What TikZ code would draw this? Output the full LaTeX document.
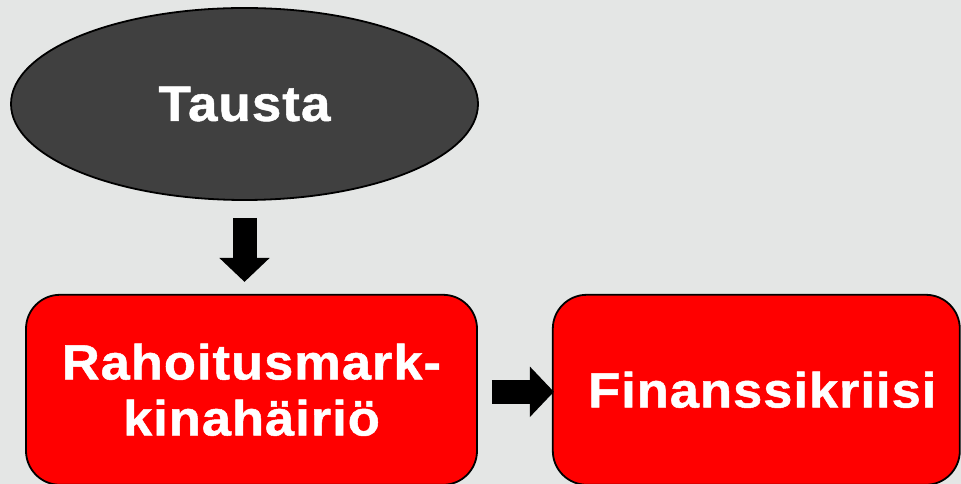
\documentclass[tikz,border=0pt]{standalone}
\usepackage{fontspec}
\setmainfont{Liberation Sans}[FakeStretch=1.06, LetterSpace=2, BoldFeatures={FakeBold=1}]
\usepackage{xcolor}
\definecolor{bggray}{RGB}{228, 230, 229}
\definecolor{ovalgray}{RGB}{64, 64, 64}
\definecolor{boxred}{RGB}{255, 0, 0}
\usetikzlibrary{shapes.geometric, arrows.meta, positioning}

\begin{document}
\begin{tikzpicture}[x=1pt, y=1pt,
        oval/.style={ellipse, draw=black, line width=1.8pt, fill=ovalgray, text=white, minimum width=467pt, minimum height=192pt, inner sep=0pt, font=\bfseries\fontsize{50}{56}\selectfont},
        block/.style={rectangle, draw=black, line width=1.8pt, fill=boxred, text=white, rounded corners=34pt, minimum height=190pt, align=center, inner sep=0pt, font=\bfseries\fontsize{49.5}{56}\selectfont},
        line/.style={draw=black, line width=24pt, -{Triangle[width=49pt, length=24pt]}}]

        % background and page size
        \fill [bggray] (0,0) rectangle (961,484);
        \useasboundingbox (0,0) rectangle (961,484);

        \node [oval] (tausta) at (244.5,380) {Tausta};

        \node [block, minimum width=451pt, below=93pt of tausta, xshift=7pt] (rahoitus) {Rahoitusmark-\\kinahäiriö};
        \node [block, minimum width=407pt, right=74pt of rahoitus] (kriisi) {\hspace*{12pt}Finanssikriisi};

        \path [line, shorten <=17pt, shorten >=12pt] (tausta.south) -- (tausta.south |- rahoitus.north);
        \path [line, shorten <=14pt, shorten >=-2pt] ([yshift=-2pt]rahoitus.east) -- ([yshift=-2pt]kriisi.west);
\end{tikzpicture}
\end{document}
